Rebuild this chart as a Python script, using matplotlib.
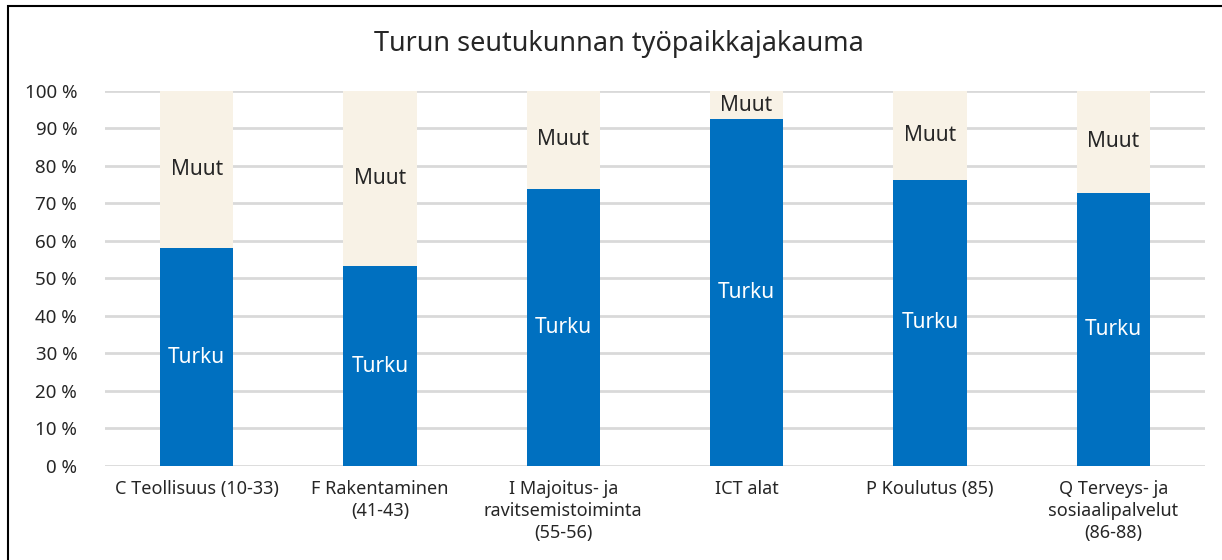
import numpy as np
import matplotlib.pyplot as plt
from matplotlib.patches import Rectangle

plt.rcParams['font.family'] = ['Noto Sans', 'DejaVu Sans']

categories = ['C Teollisuus (10-33)', 'F Rakentaminen\n(41-43)',
              'I Majoitus- ja\nravitsemistoiminta\n(55-56)', 'ICT alat',
              'P Koulutus (85)', 'Q Terveys- ja\nsosiaalipalvelut\n(86-88)']
turku = [58.0, 53.2, 73.9, 92.4, 76.3, 72.9]
muut = [100 - v for v in turku]
yticks = [0, 10, 20, 30, 40, 50, 60, 70, 80, 90, 100]

blue = '#0070C0'
beige = '#F8F2E6'
txt = '#262626'

fig = plt.figure(figsize=(12.22, 5.6), dpi=100)
ax = fig.add_axes([0.0859, 0.168, 0.9001, 0.6695])

x = np.arange(len(categories))
ax.bar(x, turku, width=0.4, color=blue, zorder=3)
ax.bar(x, muut, width=0.4, bottom=turku, color=beige, zorder=3)

for i in range(len(categories)):
    ax.text(x[i], turku[i] / 2, 'Turku', ha='center', va='center',
            color='white', fontsize=15, zorder=4)
    ax.text(x[i], turku[i] + muut[i] / 2, 'Muut', ha='center', va='center',
            color=txt, fontsize=15, zorder=4)

ax.set_xlim(-0.5, len(categories) - 0.5)
ax.set_ylim(0, 100)
ax.set_yticks(yticks)
ax.set_yticklabels([f'{t} %' for t in yticks], fontsize=13.5, color=txt)
ax.set_xticks(x)
ax.set_xticklabels(categories, fontsize=13, color=txt, linespacing=1.3, va='top')
ax.tick_params(axis='y', length=0, pad=20)
ax.tick_params(axis='x', length=0, pad=10)
ax.grid(axis='y', color='#D9D9D9', linewidth=2, zorder=0)
for s in ax.spines.values():
    s.set_visible(False)

fig.text(0.5065, 0.921, 'Turun seutukunnan työpaikkajakauma', ha='center', va='center',
         fontsize=19.5, color=txt)

# border around the chart
fig.patches.append(Rectangle((8 / 1222, -0.05), 1.1, 1 - 6 / 560 + 0.05,
                             transform=fig.transFigure, fill=False,
                             edgecolor='black', linewidth=1.5))

fig.savefig('out.png', dpi=100)
